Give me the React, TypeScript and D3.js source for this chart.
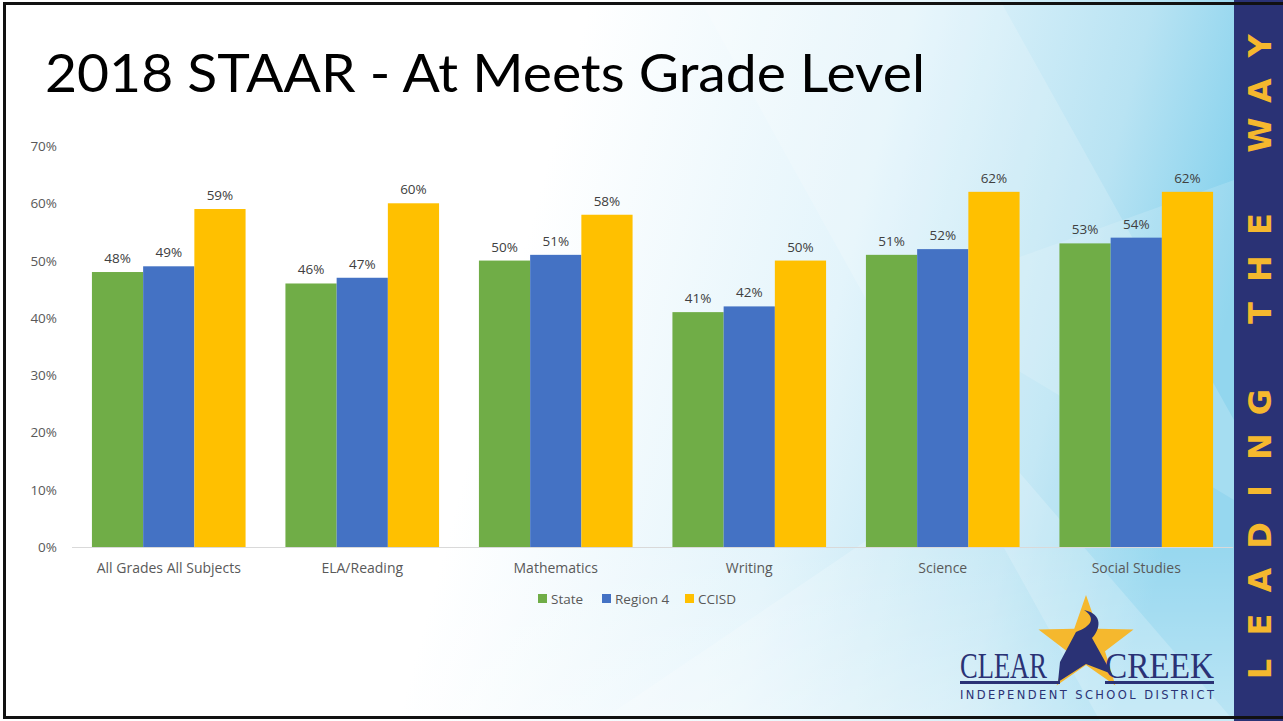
import React from "react";
import * as d3 from "d3";

const categories = ["All Grades All Subjects", "ELA/Reading", "Mathematics", "Writing", "Science", "Social Studies"];
const seriesNames = ["State", "Region 4", "CCISD"];
const stateValues = [48, 46, 50, 41, 51, 53];
const region4Values = [49, 47, 51, 42, 52, 54];
const ccisdValues = [59, 60, 58, 50, 62, 62];
const yTicks = [0, 10, 20, 30, 40, 50, 60, 70];
const colors = ["#70AD47", "#4472C4", "#FFC000"];

const W = 1283, H = 721;

export default function App() {
  const series = [stateValues, region4Values, ccisdValues];
  const x0 = d3.scaleBand<string>().domain(categories).range([72, 1233]).paddingInner(0).paddingOuter(0);
  const step = x0.bandwidth();
  const x1 = d3.scaleBand<string>().domain(seriesNames).range([step * 0.103, step * 0.897]).padding(0);
  const y = d3.scaleLinear().domain([0, 70]).range([547, 146]);

  const sideLetters = "LEADING THE WAY";
  const starPath = (cx: number, cy: number, R: number, r: number) => {
    const pts: [number, number][] = [];
    for (let i = 0; i < 10; i++) {
      const a = -Math.PI / 2 + (i * Math.PI) / 5;
      const rr = i % 2 === 0 ? R : r;
      pts.push([cx + rr * Math.cos(a), cy + rr * Math.sin(a)]);
    }
    return d3.line()(pts)! + "Z";
  };

  return (
    <svg width={W} height={H} style={{ position: "absolute", left: 0, top: 0 }} fontFamily="'Open Sans', sans-serif">
      <defs>
        <linearGradient id="bg" x1="0" y1="0" x2="1" y2="0.15">
          <stop offset="0" stopColor="#ffffff" />
          <stop offset="0.45" stopColor="#ffffff" />
          <stop offset="0.7" stopColor="#e3f4fb" />
          <stop offset="0.88" stopColor="#b8e3f3" />
          <stop offset="1" stopColor="#7fcfec" />
        </linearGradient>
        <linearGradient id="bg2" x1="0" y1="0" x2="0" y2="1">
          <stop offset="0" stopColor="#ffffff" stopOpacity="0" />
          <stop offset="0.75" stopColor="#ffffff" stopOpacity="0" />
          <stop offset="1" stopColor="#ffffff" stopOpacity="0.35" />
        </linearGradient>
      </defs>
      <rect x={0} y={0} width={W} height={H} fill="url(#bg)" />
      <polygon points="700,0 1000,0 1234,420 1234,721 1100,721" fill="#ffffff" opacity="0.18" />
      <polygon points="900,300 1234,180 1234,500" fill="#ffffff" opacity="0.15" />
      <polygon points="600,721 1000,450 1234,721" fill="#ffffff" opacity="0.2" />
      <rect x={0} y={0} width={W} height={H} fill="url(#bg2)" />

      {/* sidebar */}
      <rect x={1234} y={0} width={49} height={H} fill="#2A3275" />
      {sideLetters.split("").map((ch, i) =>
        ch === " " ? null : (
          <text key={i} x={0} y={0} transform={`translate(1271, ${669 - i * 44.5}) rotate(-90)`} textAnchor="middle"
            fontFamily="'DejaVu Sans', sans-serif" fontWeight="bold" fontSize={32} fill="#F5B82E">{ch}</text>
        )
      )}

      {/* border */}
      <rect x={4.5} y={3.5} width={1290} height={714} fill="none" stroke="#111" strokeWidth={3} />

      {/* title */}
      <text x={45} y={92} fontFamily="Lato, 'Open Sans', sans-serif" fontSize={52} fill="#000" textLength={880} lengthAdjust="spacingAndGlyphs">2018 STAAR - At Meets Grade Level</text>

      {/* y axis labels */}
      {yTicks.map(t => (
        <text key={t} x={57} y={y(t) + 5} textAnchor="end" fontSize={13.5} fill="#595959">{t}%</text>
      ))}
      <line x1={72} x2={1233} y1={547.5} y2={547.5} stroke="#d9d9d9" strokeWidth={1} />

      {/* bars */}
      {categories.map((c, ci) => (
        <g key={c} transform={`translate(${x0(c)},0)`}>
          {series.map((vals, si) => (
            <g key={si}>
              <rect x={x1(seriesNames[si])} y={y(vals[ci])} width={x1.bandwidth()} height={547 - y(vals[ci])} fill={colors[si]} />
              <text x={x1(seriesNames[si])! + x1.bandwidth() / 2} y={y(vals[ci]) - 9} textAnchor="middle" fontSize={13.5} fill="#404040">{vals[ci]}%</text>
            </g>
          ))}
          <text x={step / 2} y={573} textAnchor="middle" fontSize={14} fill="#595959">{c}</text>
        </g>
      ))}

      {/* legend */}
      {[{ n: "State", x: 538 }, { n: "Region 4", x: 602 }, { n: "CCISD", x: 685 }].map((l, i) => (
        <g key={l.n}>
          <rect x={l.x} y={594} width={9} height={9} fill={colors[i]} />
          <text x={l.x + 13} y={604} fontSize={13.5} fill="#595959">{l.n}</text>
        </g>
      ))}

      {/* logo */}
      <g>
        <path d={starPath(1086, 645, 50, 20)} fill="#F5B82E" />
        <path d="M1060,662 L1076,632 C1092,626 1096,618 1084,610 C1104,614 1100,630 1092,638 L1112,674 L1086,664 L1058,682 Z" fill="#2A3275" />
        <text x={960} y={678} fontFamily="'Liberation Serif', serif" fontSize={36} fill="#2A3275" textLength={87} lengthAdjust="spacingAndGlyphs">CLEAR</text>
        <text x={1105} y={678} fontFamily="'Liberation Serif', serif" fontSize={36} fill="#2A3275" textLength={109} lengthAdjust="spacingAndGlyphs">CREEK</text>
        <rect x={960} y={681} width={100} height={3} fill="#2A3275" />
        <rect x={1105} y={681} width={109} height={3} fill="#2A3275" />
        <text x={960} y={699} fontFamily="'DejaVu Sans', sans-serif" fontSize={11.5} fill="#2A3275" textLength={254} lengthAdjust="spacing">INDEPENDENT SCHOOL DISTRICT</text>
      </g>
    </svg>
  );
}
